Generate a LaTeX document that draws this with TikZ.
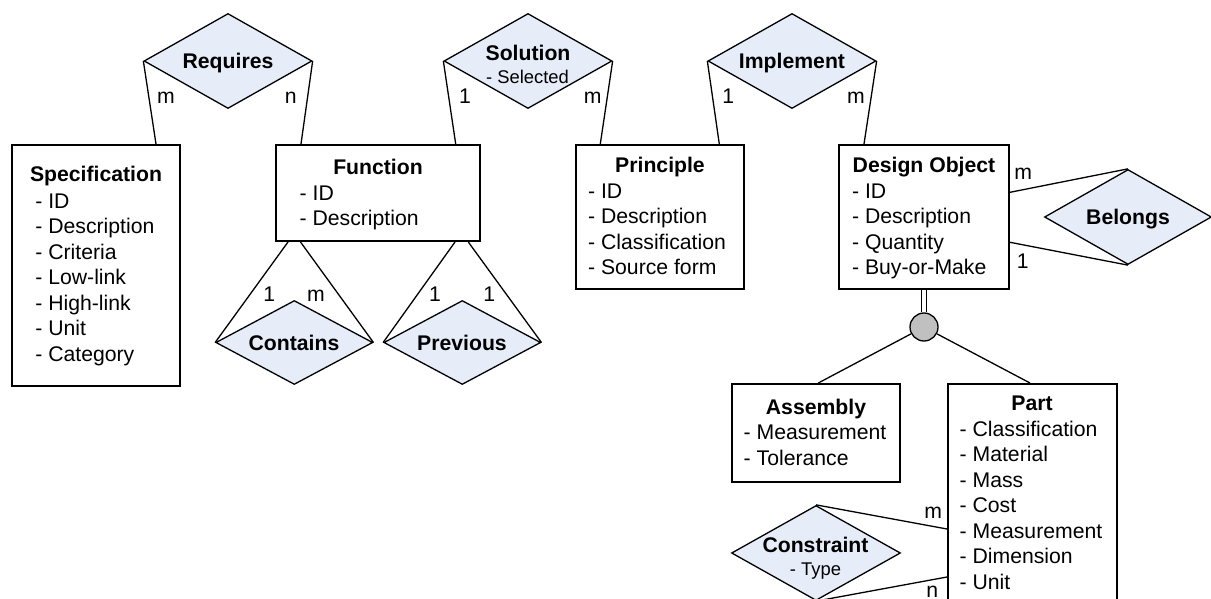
\documentclass[tikz,border=0pt]{standalone}
\usepackage{fontspec}
\setmainfont{Liberation Sans}
\usetikzlibrary{shapes.geometric, positioning}
\definecolor{relfill}{HTML}{E6ECF8}
\definecolor{isafill}{HTML}{C0C0C0}
\newcommand{\erfont}{\fontsize{10.6}{12.75}\selectfont}
\newcommand{\ersmall}{\fontsize{9.2}{11}\selectfont}

\begin{document}
\begin{tikzpicture}[x=0.5pt, y=-0.5pt,
  entity/.style={draw, line width=1pt, inner sep=0pt},
  rel/.style={diamond, draw, line width=0.65pt, fill=relfill, inner sep=0pt,
              minimum width=84pt, minimum height=47.5pt},
  enttitle/.style={font=\erfont\bfseries, inner sep=0pt, anchor=base},
  attrs/.style={font=\erfont, align=left, inner sep=0pt, anchor=north west},
  relattr/.style={font=\ersmall, inner sep=0pt, anchor=base},
  card/.style={font=\erfont, inner sep=0pt, anchor=base},
  link/.style={line width=0.65pt}]
  \useasboundingbox (0,0) rectangle (1211,599);
  \clip (0,0) rectangle (1211,599);

  % entities
  \node[entity, minimum width=84pt, minimum height=120.5pt] (spec) at (96,265.5) {};
  \node[enttitle] (spec-t) at (96,182) {Specification};
  \node[attrs] (spec-a) at (35,193.4)
    {- ID\\- Description\\- Criteria\\- Low-link\\- High-link\\- Unit\\- Category};

  \node[entity, minimum width=102pt, minimum height=48pt] (fun) at (378,193) {};
  \node[enttitle] (fun-t) at (378,174.5) {Function};
  \node[attrs] (fun-a) at (299.3,185.1) {- ID\\- Description};

  \node[entity, minimum width=84pt, minimum height=72pt] (pri) at (660,217) {};
  \node[enttitle] (pri-t) at (660,172.5) {Principle};
  \node[attrs] (pri-a) at (587.7,183.4)
    {- ID\\- Description\\- Classification\\- Source form};

  \node[entity, minimum width=85pt, minimum height=72pt] (dob) at (924,217) {};
  \node[enttitle] (dob-t) at (924,172.5) {Design Object};
  \node[attrs] (dob-a) at (851.7,183.4)
    {- ID\\- Description\\- Quantity\\- Buy-or-Make};

  \node[entity, minimum width=84pt, minimum height=49pt] (asm) at (816,433) {};
  \node[enttitle] (asm-t) at (816,414) {Assembly};
  \node[attrs] (asm-a) at (743.3,424.7) {- Measurement\\- Tolerance};

  \node[entity, minimum width=84.5pt, minimum height=128pt] (part) at (1032.5,512) {};
  \node[enttitle] (part-t) at (1032,410) {Part};
  \node[attrs] (part-a) at (959.3,420.7)
    {- Classification\\- Material\\- Mass\\- Cost\\- Measurement\\- Dimension\\- Unit};

  % relationships
  \node[rel] (req) at (228,61) {};
  \node[enttitle] (req-t) at (228,69) {Requires};
  \node[rel] (sol) at (528,61) {};
  \node[enttitle] (sol-t) at (528,60.8) {Solution};
  \node[relattr] (sol-a) at (527.5,83.3) {- Selected};
  \node[rel] (imp) at (792,61) {};
  \node[enttitle] (imp-t) at (792,68.5) {Implement};
  \node[rel, minimum width=83.5pt] (bel) at (1128,217) {};
  \node[enttitle] (bel-t) at (1128,224.5) {Belongs};
  \node[rel, minimum width=78.5pt, minimum height=42pt] (con) at (294.3,342.5) {};
  \node[enttitle] (con-t) at (294,350) {Contains};
  \node[rel, minimum width=78.5pt, minimum height=42pt] (prev) at (462.3,342.5) {};
  \node[enttitle] (prev-t) at (462,350) {Previous};
  \node[rel, minimum width=84.5pt] (cst) at (816,553) {};
  \node[enttitle] (cst-t) at (815.5,552.5) {Constraint};
  \node[relattr] (cst-a) at (815.5,575) {- Type};

  % connectors
  \draw[link] (req.west) -- ([xshift=30pt]spec.north);
  \draw[link] (req.east) -- ([xshift=-38.5pt]fun.north);
  \draw[link] (sol.west) -- ([xshift=38.85pt]fun.north);
  \draw[link] (sol.east) -- ([xshift=-29.85pt]pri.north);
  \draw[link] (imp.west) -- ([xshift=29.65pt]pri.north);
  \draw[link] (imp.east) -- ([xshift=-30pt]dob.north);
  \draw[link] ([yshift=12.35pt]dob.east) -- (bel.north);
  \draw[link] ([yshift=-12.65pt]dob.east) -- (bel.south);
  \draw[link] ([xshift=-45pt]fun.south) -- (con.west);
  \draw[link] ([xshift=-38.75pt]fun.south) -- (con.east);
  \draw[link] ([xshift=38.5pt]fun.south) -- (prev.west);
  \draw[link] ([xshift=45.15pt]fun.south) -- (prev.east);
  \draw[link] (cst.north) -- ([yshift=-8.5pt]part.west);
  \draw[link] (cst.south) -- ([yshift=-32.5pt]part.west);

  % specialisation
  \node[circle, draw, line width=0.65pt, fill=isafill, minimum size=14pt,
        inner sep=0pt] (isa) at (924,327) {};
  \draw[link, double, double distance=2pt] (dob.south) -- (isa.north);
  \draw[link] (isa) -- ([xshift=1.15pt]asm.north);
  \draw[link] (isa) -- ([xshift=-1.25pt]part.north);

  % cardinalities
  \foreach \x/\y/\c [count=\i] in {166/103.5/m, 290.7/103.5/n, 465/103.5/1,
      592.7/103.5/m, 728.3/103.5/1, 856/103.5/m, 269.3/301.7/1, 316/301.7/m,
      435/301.7/1, 489.3/301.7/1, 1023.3/179/m, 1022.7/268.3/1,
      933.3/518.3/m, 932.3/597.5/n}{
    \node[card] (card\i) at (\x,\y) {\c};
  }
\end{tikzpicture}
\end{document}
